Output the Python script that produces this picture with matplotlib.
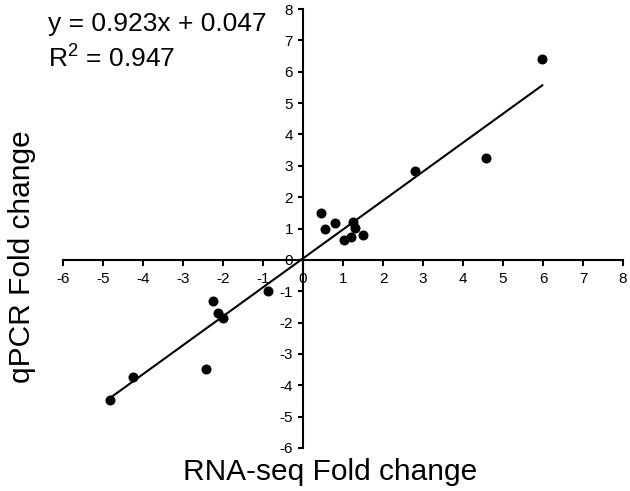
import matplotlib
matplotlib.use("Agg")
import matplotlib.pyplot as plt
import numpy as np

# RNA-seq vs qPCR fold change
rna_fc = [-4.83, -4.24, -2.43, -2.24, -2.12, -1.99, -0.88, 0.45, 0.54,
          0.80, 1.02, 1.21, 1.24, 1.29, 1.49, 2.79, 4.58, 5.98]
qpcr_fc = [-4.47, -3.72, -3.48, -1.31, -1.68, -1.85, -0.99, 1.48, 0.97,
           1.16, 0.64, 0.73, 1.21, 1.02, 0.78, 2.82, 3.26, 6.42]
slope, intercept = 0.923, 0.047
r2 = 0.947
ticks = list(range(-6, 9))

plt.rcParams["font.family"] = ["Liberation Sans", "DejaVu Sans"]
plt.rcParams["axes.unicode_minus"] = False
plt.rcParams["mathtext.fontset"] = "custom"
plt.rcParams["mathtext.rm"] = "Liberation Sans"

fig = plt.figure(figsize=(6.3, 4.91), dpi=100)
ax = fig.add_axes([0.1, 0.0876, 0.889, 0.894])

ax.scatter(rna_fc, qpcr_fc, s=52, color="black", zorder=3, linewidths=0)
xs = np.array([min(rna_fc), max(rna_fc)])
ax.plot(xs, slope * xs + intercept, color="black", linewidth=1.5, zorder=2)

ax.set_xlim(-6, 8)
ax.set_ylim(-6, 8)
ax.set_xticks(ticks)
ax.set_yticks(ticks)

# axes crossing at the origin
ax.spines["left"].set_position(("data", 0))
ax.spines["bottom"].set_position(("data", 0))
ax.spines["right"].set_visible(False)
ax.spines["top"].set_visible(False)
for sp in ("left", "bottom"):
    ax.spines[sp].set_linewidth(1.5)

ax.tick_params(axis="x", direction="out", length=4.5, width=1.5,
               pad=4, labelsize=11)
ax.tick_params(axis="y", direction="out", length=3.8, width=1.5,
               pad=3.5, labelsize=11)

fig.text(48 / 630, 1 - 31 / 491, f"y = {slope}x + {intercept}",
         fontsize=19, ha="left", va="baseline")
fig.text(48 / 630, 1 - 67 / 491, r"R$^{\mathrm{2}}$ = " + f"{r2}",
         fontsize=19, ha="left", va="baseline")

fig.text(330 / 630, 1 - 480 / 491, "RNA-seq Fold change",
         fontsize=21.5, ha="center", va="baseline")
fig.text(22 / 630, 1 - 257 / 491, "qPCR Fold change",
         fontsize=21.5, ha="center", va="center", rotation=90)

fig.savefig("out.png", dpi=100)
plt.close(fig)
